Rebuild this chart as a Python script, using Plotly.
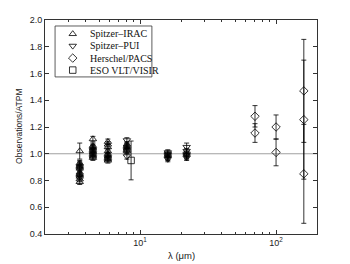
import math
import plotly.graph_objects as go

# ---- data ----
irac_wl = [3.6, 3.6, 3.6, 3.6, 3.6, 3.6, 3.6, 3.6, 3.6, 3.6, 3.6, 3.6,
           4.5, 4.5, 4.5, 4.5, 4.5, 4.5, 4.5, 4.5, 4.5, 4.5, 4.5,
           5.8, 5.8, 5.8, 5.8, 5.8, 5.8, 5.8, 5.8, 5.8, 5.8,
           8.0, 8.0, 8.0, 8.0, 8.0, 8.0]
irac_ratio = [1.02, 0.93, 0.92, 0.91, 0.90, 0.89, 0.86, 0.85, 0.84, 0.83, 0.81, 0.79,
              1.11, 1.06, 1.05, 1.04, 1.03, 1.02, 1.01, 1.00, 0.99, 0.98, 0.97,
              1.09, 1.07, 1.05, 1.02, 1.00, 0.99, 0.98, 0.97, 0.96, 0.95,
              1.07, 1.06, 1.05, 1.04, 1.03, 1.02]
irac_err = [0.06, 0.02, 0.02, 0.02, 0.02, 0.02, 0.02, 0.02, 0.02, 0.02, 0.02, 0.02,
            0.02, 0.02, 0.02, 0.02, 0.02, 0.02, 0.02, 0.02, 0.02, 0.02, 0.02,
            0.02, 0.02, 0.02, 0.02, 0.02, 0.02, 0.02, 0.02, 0.02, 0.02,
            0.02, 0.02, 0.02, 0.02, 0.02, 0.02]

pui_wl = [8.0, 8.0, 16, 16, 16, 16, 16, 16, 22, 22, 22, 22, 22, 22]
pui_ratio = [1.10, 0.98, 1.01, 1.00, 0.99, 0.98, 0.97, 0.96,
             1.05, 1.02, 1.00, 0.99, 0.98, 0.97]
pui_err = [0.02, 0.02, 0.02, 0.02, 0.02, 0.02, 0.02, 0.02,
           0.03, 0.02, 0.02, 0.02, 0.02, 0.02]

pacs_wl = [70, 70, 100, 100, 160, 160, 160]
pacs_ratio = [1.28, 1.155, 1.20, 1.01, 1.47, 1.255, 0.85]
pacs_err = [0.08, 0.07, 0.09, 0.10, 0.385, 0.445, 0.37]

visir_wl = [8.59]
visir_ratio = [0.95]
visir_err = [0.145]

series_names = ["Spitzer\u2013IRAC", "Spitzer\u2013PUI", "Herschel/PACS", "ESO VLT/VISIR"]
series_symbols = ["triangle-up-open", "triangle-down-open", "diamond-open", "square-open"]

x_range = [2, 200]
y_range = [0.4, 2.0]
y_ticks = [0.4, 0.6, 0.8, 1.0, 1.2, 1.4, 1.6, 1.8, 2.0]
x_major = [10, 100]
x_major_text = ["10<sup>1</sup>", "10<sup>2</sup>"]
x_minor = [2, 3, 4, 5, 6, 7, 8, 9, 20, 30, 40, 50, 60, 70, 80, 90, 200]

# ---- figure ----
fig = go.Figure()

series = [(irac_wl, irac_ratio, irac_err), (pui_wl, pui_ratio, pui_err),
          (pacs_wl, pacs_ratio, pacs_err), (visir_wl, visir_ratio, visir_err)]

for name, sym, (wl, ratio, err) in zip(series_names, series_symbols, series):
    fig.add_trace(go.Scatter(
        x=wl, y=ratio, mode="markers", name=name, showlegend=False,
        marker=dict(symbol=sym, size=6.5, color="black",
                    line=dict(color="black", width=0.8)),
        error_y=dict(type="data", array=err, visible=True,
                     color="black", thickness=0.8, width=2.5),
    ))

fig.add_shape(type="line", xref="paper", x0=0, x1=1, yref="y", y0=1.0, y1=1.0,
              line=dict(color="#a0a0a0", width=1), layer="below")

# ---- compact legend (box fractions of the plot area) ----
leg_x0, leg_x1, leg_top, leg_bot = 0.037, 0.393, 0.972, 0.734
leg_sym_x, leg_txt_x = 0.102, 0.158
leg_rows = [0.935, 0.879, 0.822, 0.766]

lx0, lx1 = math.log10(x_range[0]), math.log10(x_range[1])
sym_x_data = 10 ** (lx0 + (lx1 - lx0) * leg_sym_x)
sym_y_data = [y_range[0] + (y_range[1] - y_range[0]) * f for f in leg_rows]

fig.add_shape(type="rect", xref="paper", yref="paper",
              x0=leg_x0, x1=leg_x1, y0=leg_bot, y1=leg_top,
              line=dict(color="#333", width=0.8), fillcolor="white", layer="below")
fig.add_trace(go.Scatter(
    x=[sym_x_data] * len(series_names), y=sym_y_data,
    mode="markers", showlegend=False, hoverinfo="skip",
    marker=dict(symbol=series_symbols, size=6.5, color="black",
                line=dict(color="black", width=0.8)),
))
for name, yy in zip(series_names, leg_rows):
    fig.add_annotation(text=name, xref="paper", yref="paper", x=leg_txt_x, y=yy,
                       xanchor="left", yanchor="middle", showarrow=False,
                       font=dict(family="Liberation Serif, Times New Roman", size=10, color="#111"))

tickfont = dict(family="Liberation Sans, Arial", size=9, color="#222")

fig.update_layout(
    xaxis=dict(type="log", range=[lx0, lx1],
               tickvals=x_major, ticktext=x_major_text,
               ticks="inside", ticklen=4, tickwidth=0.6, tickcolor="#333",
               minor=dict(tickvals=x_minor, ticks="inside", ticklen=2,
                          tickwidth=0.6, tickcolor="#333"),
               showline=True, linecolor="#333", linewidth=0.8, mirror="ticks",
               showgrid=False, zeroline=False, tickfont=tickfont),
    yaxis=dict(range=y_range, tickvals=y_ticks, tickformat=".1f",
               ticks="inside", ticklen=4, tickwidth=0.6, tickcolor="#333",
               showline=True, linecolor="#333", linewidth=0.8, mirror="ticks",
               showgrid=False, zeroline=False, tickfont=tickfont),
)

fig.add_annotation(text="Observations/ATPM", xref="paper", yref="paper",
                   x=-0.07, y=0.505, textangle=-90, showarrow=False,
                   xanchor="right", yanchor="middle",
                   font=dict(family="Liberation Sans, Arial", size=8.5, color="#222"))
fig.add_annotation(text="\u03bb (\u03bcm)", xref="paper", yref="paper",
                   x=0.5, y=-0.1, showarrow=False, xanchor="center", yanchor="middle",
                   font=dict(family="Liberation Sans, Arial", size=9.5, color="#222"))

fig.update_layout(
    width=350, height=264,
    margin=dict(l=45, r=33, t=20, b=30),
    paper_bgcolor="white", plot_bgcolor="white",
    showlegend=False,
)

fig.write_html("out.html", post_script="document.body.style.margin='0';",
               config={"displayModeBar": False})
